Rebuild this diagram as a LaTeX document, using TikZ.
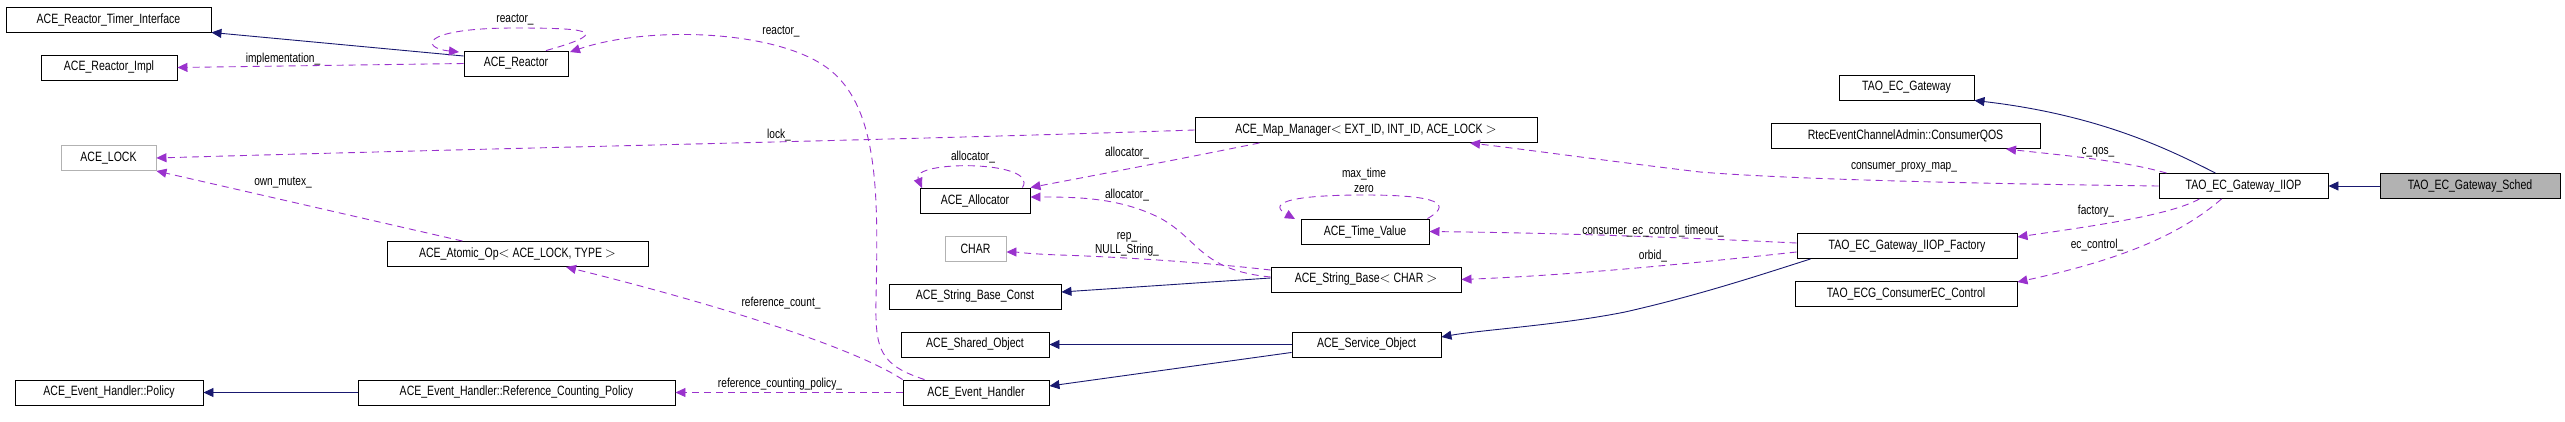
\documentclass[tikz,border=0pt]{standalone}
\usepackage{fontspec}
\setmainfont{Liberation Sans}[FakeStretch=0.78]
\usetikzlibrary{arrows.meta}
\definecolor{inh}{HTML}{191970}
\definecolor{usg}{HTML}{9A32CD}
\tikzset{
 cls/.style={draw=black,line width=0.9pt,minimum height=25pt,inner sep=0pt,font=\fontsize{13.5}{15}\selectfont,fill=white},
 ext/.style={cls,draw=black!30},
 isa/.style={draw=inh,line width=0.9pt,-{Triangle[length=10pt,width=9pt]}},
 dep/.style={draw=usg,line width=0.9pt,dash pattern=on 7pt off 5pt,-{Triangle[length=10pt,width=9pt]}},
 lbl/.style={font=\fontsize{13}{14.5}\selectfont,inner sep=0pt,align=center}
}
\begin{document}
\begin{tikzpicture}[x=1pt,y=-1pt]
\useasboundingbox (0,0) rectangle (2565,421);
\node[cls,minimum width=205pt] (rti) at (108.5,19.5) {ACE\_Reactor\_Timer\_Interface};
\node[cls,minimum width=136pt] (impl) at (109,67.5) {ACE\_Reactor\_Impl};
\node[cls,minimum width=104pt] (reac) at (516,63.5) {ACE\_Reactor};
\node[ext,minimum width=95pt] (lock) at (108.5,158) {ACE\_LOCK};
\node[cls,minimum width=261pt] (atom) at (517.5,254) {ACE\_Atomic\_Op$<$ ACE\_LOCK, TYPE $>$};
\node[cls,minimum width=188pt] (pol) at (109,392.5) {ACE\_Event\_Handler::Policy};
\node[cls,minimum width=317pt] (rcp) at (516.5,392.5) {ACE\_Event\_Handler::Reference\_Counting\_Policy};
\node[cls,minimum width=342pt] (map) at (1366,130) {ACE\_Map\_Manager$<$ EXT\_ID, INT\_ID, ACE\_LOCK $>$};
\node[cls,minimum width=110pt] (alloc) at (975,200.5) {ACE\_Allocator};
\node[cls,minimum width=128pt] (tv) at (1365,231.5) {ACE\_Time\_Value};
\node[ext,minimum width=61pt] (char) at (975.5,248.5) {CHAR};
\node[cls,minimum width=190pt] (sb) at (1366,279.5) {ACE\_String\_Base$<$ CHAR $>$};
\node[cls,minimum width=172pt] (sbc) at (975,296.5) {ACE\_String\_Base\_Const};
\node[cls,minimum width=148pt] (shared) at (975,344.5) {ACE\_Shared\_Object};
\node[cls,minimum width=149pt] (serv) at (1366.5,344.5) {ACE\_Service\_Object};
\node[cls,minimum width=146pt] (eh) at (976,392.5) {ACE\_Event\_Handler};
\node[cls,minimum width=135pt] (gw) at (1906.5,87.5) {TAO\_EC\_Gateway};
\node[cls,minimum width=269pt] (qos) at (1905.5,135.5) {RtecEventChannelAdmin::ConsumerQOS};
\node[cls,minimum width=169pt] (iiop) at (2243.5,186) {TAO\_EC\_Gateway\_IIOP};
\node[cls,minimum width=180pt,fill=black!30] (sched) at (2470,186) {TAO\_EC\_Gateway\_Sched};
\node[cls,minimum width=220pt] (fac) at (1907,246) {TAO\_EC\_Gateway\_IIOP\_Factory};
\node[cls,minimum width=222pt] (ctl) at (1906,294) {TAO\_ECG\_ConsumerEC\_Control};

% inheritance
\draw[isa] (reac.west|-464,56) -- (rti.south east);
\draw[isa] (rcp) -- (pol);
\draw[isa] (sb.west|-0,278) -- (sbc.east|-0,292);
\draw[isa] (serv) -- (shared);
\draw[isa] (serv.south west) ++(0,-5) -- (eh.north east|-0,386);
\draw[isa] (fac.south west) ++(14,0) .. controls (1760,275) and (1700,295) .. (1625,312) .. controls (1560,325) and (1480,330) .. (serv.east|-0,337);
\draw[isa] (iiop.north) ++(-28,0) .. controls (2170,150) and (2100,115) .. (gw.south east);
\draw[isa] (sched) -- (iiop);

% usage
\draw[dep] (reac.west) -- (impl.east);
\draw[dep] (reac.north)++(30,0) .. controls (620,30) and (580,28) .. (515,28) .. controls (420,28) and (420,48) .. (459,52);
\draw[dep] (eh.north west)++(22,0) .. controls (880,365) and (875,350) .. (876,300) .. controls (878,200) and (880,110) .. (830,70) .. controls (780,30) and (650,25) .. (570,52);
\draw[dep] (map.west) .. controls (900,140) and (500,148) .. (lock.east);
\draw[dep] (atom.north)++(-55,0) -- (lock.south east);
\draw[dep] (eh.north west)++(0,0) .. controls (850,345) and (700,300) .. (566,267);
\draw[dep] (eh) -- (rcp);
\draw[dep] (alloc.north east)++(-8,0) .. controls (1040,160) and (910,160) .. (922,188);
\draw[dep] (map.south west)++(65,0) .. controls (1150,165) and (1070,180) .. (alloc.north east);
\draw[dep] (sb.west|-0,277) .. controls (1200,270) and (1200,240) .. (1160,218) .. controls (1120,198) and (1080,197) .. (alloc.east|-0,197);
\draw[dep] (sb.west|-0,270) .. controls (1200,262) and (1120,257) .. (1060,255) .. controls (1030,254) and (1015,252) .. (char.east|-0,252);
\draw[dep] (tv.north east)++(-2,0) .. controls (1460,200) and (1420,195) .. (1365,195) .. controls (1280,195) and (1270,205) .. (1295,219);
\draw[dep] (fac.west|-0,243) .. controls (1650,236) and (1550,233) .. (tv.east);
\draw[dep] (fac.west|-0,252) .. controls (1650,268) and (1550,276) .. (sb.east);
\draw[dep] (iiop.north west)++(8,0) .. controls (2120,160) and (2060,155) .. (2006,149);
\draw[dep] (iiop.west) .. controls (2000,184) and (1800,180) .. (1700,172) .. controls (1600,160) and (1530,150) .. (1470,143);
\draw[dep] (iiop.south)++(-44,0) .. controls (2170,215) and (2100,225) .. (fac.east|-0,237);
\draw[dep] (iiop.south)++(-22,0) .. controls (2180,235) and (2120,260) .. (ctl.east|-0,282);

% labels
\node[lbl] (l1) at (515,20) {reactor\_};
\node[lbl] (l2) at (781,32) {reactor\_};
\node[lbl] (l3) at (283,59) {implementation\_};
\node[lbl] (l4) at (779,135) {lock\_};
\node[lbl] (l5) at (283,183) {own\_mutex\_};
\node[lbl] (l6) at (781,303) {reference\_count\_};
\node[lbl] (l7) at (780,384) {reference\_counting\_policy\_};
\node[lbl] (l8) at (973,157) {allocator\_};
\node[lbl] (l9) at (1127,153) {allocator\_};
\node[lbl] (l10) at (1364,180.5) {max\_time\\zero};
\node[lbl] (l11) at (1127,195) {allocator\_};
\node[lbl] (l12) at (1127,244.5) {rep\_\\NULL\_String\_};
\node[lbl] (l13) at (1653,231) {consumer\_ec\_control\_timeout\_};
\node[lbl] (l14) at (1653,256) {orbid\_};
\node[lbl] (l15) at (2098,152) {c\_qos\_};
\node[lbl] (l16) at (1904,167) {consumer\_proxy\_map\_};
\node[lbl] (l17) at (2096,211) {factory\_};
\node[lbl] (l18) at (2097,245) {ec\_control\_};
\end{tikzpicture}
\end{document}
